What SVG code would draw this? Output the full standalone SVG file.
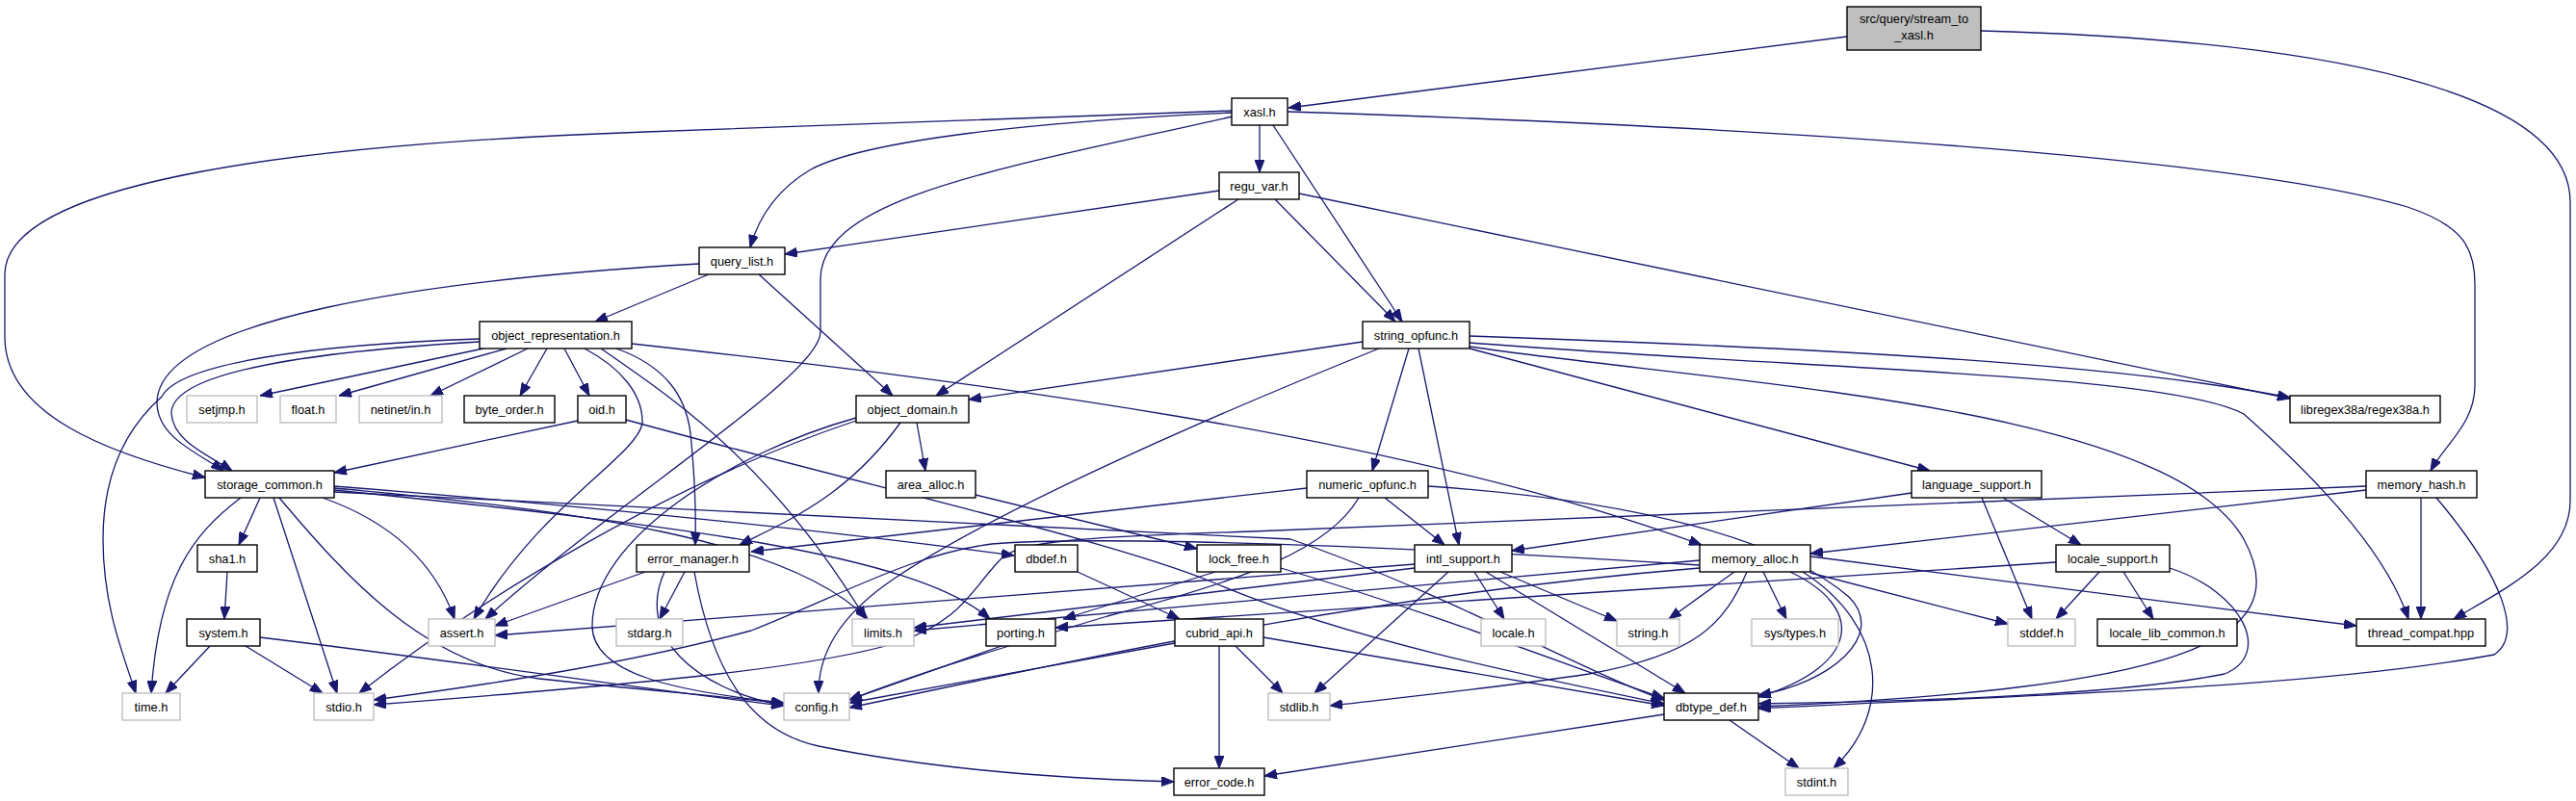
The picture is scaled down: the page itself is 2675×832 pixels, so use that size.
<svg xmlns="http://www.w3.org/2000/svg" width="2675" height="832" viewBox="0 0 2675 832">
<style>
.n rect{fill:#fff;stroke:#000;stroke-width:1.4}
.g rect{fill:#fff;stroke:#bfbfbf;stroke-width:1.4}
.m rect{fill:#bfbfbf;stroke:#000;stroke-width:1.4}
text{font-family:"Liberation Sans",Arial,Helvetica,sans-serif;font-size:12.8px;text-anchor:middle;fill:#000}
#edges path{fill:none;stroke:#191970;stroke-width:1.3;marker-end:url(#a)}
</style>
<defs>
<marker id="a" viewBox="0 0 13 10" refX="13" refY="5" markerWidth="13" markerHeight="10" markerUnits="userSpaceOnUse" orient="auto"><path d="M0,0 L13,5 L0,10 z" fill="#191970" stroke="#191970"/></marker>
</defs>
<rect width="2675" height="832" fill="#fff"/>
<g id="edges">
<path d="M1918,38 L1338,112"/>
<path d="M2057,32 C2420,42 2669,95 2669,210 L2669,520 C2669,580 2600,612 2548,643"/>
<path d="M1308,130 L1308,179"/>
<path d="M1279,117 C1080,126 900,145 842,176 C808,196 788,225 779,257"/>
<path d="M1279,115 L670,137 C300,150 5,190 5,285 L5,350 C5,430 110,470 213,496"/>
<path d="M1280,121 C1040,175 852,205 852,290 L852,345 C852,390 640,520 504,643"/>
<path d="M1322,130 L1456,334"/>
<path d="M1337,116 C1900,134 2340,168 2500,215 C2560,235 2570,260 2570,295 L2570,400 C2570,440 2540,460 2524,489"/>
<path d="M1266,198 L815,264"/>
<path d="M1286,207 L972,411"/>
<path d="M1324,207 L1449,334"/>
<path d="M1349,201 L2378,414"/>
<path d="M736,285 L618,334"/>
<path d="M788,285 L927,411"/>
<path d="M726,274 C450,290 160,330 163,420 C165,455 205,470 232,489"/>
<path d="M498,355 C330,365 176,385 178,430 C180,458 215,472 241,489"/>
<path d="M498,352 C320,358 185,378 168,412 C125,450 107,500 107,560 C107,630 128,680 141,720"/>
<path d="M502,362 L270,411"/>
<path d="M526,362 L352,411"/>
<path d="M548,362 L447,411"/>
<path d="M568,362 L540,411"/>
<path d="M586,362 L612,411"/>
<path d="M640,362 C690,380 712,410 717,450 C722,500 723,530 722,566"/>
<path d="M624,362 C700,415 800,480 899,643"/>
<path d="M607,362 C645,382 668,410 667,440 C660,475 560,525 492,643"/>
<path d="M656,357 C1000,395 1450,450 1767,566"/>
<path d="M600,437 L347,491"/>
<path d="M650,436 C900,505 1150,560 1260,605 C1400,665 1600,705 1728,731"/>
<path d="M952,439 L961,489"/>
<path d="M935,439 C880,515 820,540 768,566"/>
<path d="M889,437 C700,500 500,620 373,720"/>
<path d="M889,434 C760,470 615,560 615,650 C615,700 700,718 814,730"/>
<path d="M1415,355 L1006,415"/>
<path d="M1432,362 C1300,415 1050,520 930,600 C870,640 850,680 850,720"/>
<path d="M1463,362 L1425,489"/>
<path d="M1473,362 L1515,566"/>
<path d="M1526,362 L2004,489"/>
<path d="M1526,349 C1900,362 2200,378 2378,413"/>
<path d="M1526,356 C1900,385 2250,388 2330,430 C2420,510 2480,580 2501,643"/>
<path d="M1526,360 C1800,400 2250,420 2330,560 C2390,670 2250,715 1826,734"/>
<path d="M270,517 L248,566"/>
<path d="M250,517 C200,555 165,600 157,720"/>
<path d="M284,517 L350,720"/>
<path d="M290,517 C360,600 440,690 560,705 C680,718 760,724 814,731"/>
<path d="M335,517 C400,540 450,580 472,643"/>
<path d="M347,505 C600,525 850,550 1053,577"/>
<path d="M347,507 C600,530 820,560 901,643"/>
<path d="M347,509 C700,545 950,575 1028,643"/>
<path d="M347,511 L1340,560 C1500,615 1650,700 1728,727"/>
<path d="M1013,514 L1243,570"/>
<path d="M1357,507 L780,573"/>
<path d="M1438,517 L1500,566"/>
<path d="M1411,517 C1380,570 1300,600 1150,640 C1050,670 950,700 882,727"/>
<path d="M1483,505 C1700,520 1850,560 1920,620 C1960,660 1900,710 1826,722"/>
<path d="M1985,512 L1570,572"/>
<path d="M2058,517 L2110,643"/>
<path d="M2080,517 L2161,566"/>
<path d="M2457,509 L1880,575"/>
<path d="M2457,505 L1300,552 C1120,558 1060,562 1040,580 C1010,610 1000,645 930,668 C850,692 700,708 388,732"/>
<path d="M2514,517 L2514,643"/>
<path d="M2530,517 C2600,600 2620,660 2590,680 C2400,715 2100,722 1826,736"/>
<path d="M236,594 L233,643"/>
<path d="M711,594 L685,643"/>
<path d="M670,594 L514,650"/>
<path d="M690,594 C660,660 720,715 814,733"/>
<path d="M721,594 C740,700 780,760 850,775 C1000,805 1150,810 1219,812"/>
<path d="M1119,594 L1225,643"/>
<path d="M1262,594 L1104,643"/>
<path d="M1330,590 C1500,640 1650,700 1728,725"/>
<path d="M1469,586 L514,660"/>
<path d="M1469,590 L949,652"/>
<path d="M1504,594 L1365,720"/>
<path d="M1531,594 L1562,643"/>
<path d="M1558,594 L1679,645"/>
<path d="M1543,594 L1750,720"/>
<path d="M1801,594 L1733,643"/>
<path d="M1831,594 L1855,643"/>
<path d="M1859,594 C1935,630 1935,690 1826,724"/>
<path d="M1872,594 C1960,650 1965,740 1904,798"/>
<path d="M1814,594 C1790,650 1760,680 1650,700 C1550,715 1450,725 1381,733"/>
<path d="M1880,595 L2085,648"/>
<path d="M1880,578 L2447,650"/>
<path d="M1765,582 L949,655"/>
<path d="M1765,587 C1500,570 1150,555 1030,565 C950,575 880,615 780,655 C650,690 500,712 388,727"/>
<path d="M1765,590 C1400,620 1100,690 882,735"/>
<path d="M2180,594 L2135,643"/>
<path d="M2205,594 L2236,643"/>
<path d="M2253,590 C2330,615 2360,680 2310,700 C2200,722 2000,728 1826,731"/>
<path d="M2135,584 L1096,652"/>
<path d="M218,671 L172,720"/>
<path d="M255,671 L335,720"/>
<path d="M270,662 C500,690 700,720 814,733"/>
<path d="M1040,671 L882,727"/>
<path d="M1220,668 L882,730"/>
<path d="M1283,671 L1332,720"/>
<path d="M1266,671 L1266,798"/>
<path d="M1312,662 L1728,733"/>
<path d="M1728,742 L1313,806"/>
<path d="M1796,748 L1868,798"/>
</g>
<g id="n_stream_to_xasl" class="m"><rect x="1918" y="7" width="139" height="45"/><text x="1987.5" y="24">src/query/stream_to</text><text x="1987.5" y="41">_xasl.h</text></g>
<g id="n_xasl" class="n"><rect x="1279" y="102" width="58" height="28"/><text x="1308" y="120.5">xasl.h</text></g>
<g id="n_regu_var" class="n"><rect x="1266" y="179" width="83" height="28"/><text x="1307.5" y="197.5">regu_var.h</text></g>
<g id="n_query_list" class="n"><rect x="726" y="257" width="89" height="28"/><text x="770.5" y="275.5">query_list.h</text></g>
<g id="n_object_representation" class="n"><rect x="498" y="334" width="158" height="28"/><text x="577" y="352.5">object_representation.h</text></g>
<g id="n_string_opfunc" class="n"><rect x="1415" y="334" width="111" height="28"/><text x="1470.5" y="352.5">string_opfunc.h</text></g>
<g id="n_setjmp" class="g"><rect x="194" y="411" width="73" height="28"/><text x="230.5" y="429.5">setjmp.h</text></g>
<g id="n_float" class="g"><rect x="291" y="411" width="58" height="28"/><text x="320" y="429.5">float.h</text></g>
<g id="n_netinet" class="g"><rect x="373" y="411" width="86" height="28"/><text x="416" y="429.5">netinet/in.h</text></g>
<g id="n_byte_order" class="n"><rect x="482" y="411" width="94" height="28"/><text x="529" y="429.5">byte_order.h</text></g>
<g id="n_oid" class="n"><rect x="600" y="411" width="50" height="28"/><text x="625" y="429.5">oid.h</text></g>
<g id="n_object_domain" class="n"><rect x="889" y="411" width="117" height="28"/><text x="947.5" y="429.5">object_domain.h</text></g>
<g id="n_libregex" class="n"><rect x="2378" y="411" width="156" height="28"/><text x="2456" y="429.5">libregex38a/regex38a.h</text></g>
<g id="n_storage_common" class="n"><rect x="213" y="489" width="134" height="28"/><text x="280" y="507.5">storage_common.h</text></g>
<g id="n_area_alloc" class="n"><rect x="920" y="489" width="93" height="28"/><text x="966.5" y="507.5">area_alloc.h</text></g>
<g id="n_numeric_opfunc" class="n"><rect x="1357" y="489" width="126" height="28"/><text x="1420" y="507.5">numeric_opfunc.h</text></g>
<g id="n_language_support" class="n"><rect x="1985" y="489" width="135" height="28"/><text x="2052.5" y="507.5">language_support.h</text></g>
<g id="n_memory_hash" class="n"><rect x="2457" y="489" width="115" height="28"/><text x="2514.5" y="507.5">memory_hash.h</text></g>
<g id="n_sha1" class="n"><rect x="205" y="566" width="62" height="28"/><text x="236" y="584.5">sha1.h</text></g>
<g id="n_error_manager" class="n"><rect x="661" y="566" width="117" height="28"/><text x="719.5" y="584.5">error_manager.h</text></g>
<g id="n_dbdef" class="n"><rect x="1054" y="566" width="65" height="28"/><text x="1086.5" y="584.5">dbdef.h</text></g>
<g id="n_lock_free" class="n"><rect x="1243" y="566" width="87" height="28"/><text x="1286.5" y="584.5">lock_free.h</text></g>
<g id="n_intl_support" class="n"><rect x="1469" y="566" width="101" height="28"/><text x="1519.5" y="584.5">intl_support.h</text></g>
<g id="n_memory_alloc" class="n"><rect x="1765" y="566" width="115" height="28"/><text x="1822.5" y="584.5">memory_alloc.h</text></g>
<g id="n_locale_support" class="n"><rect x="2135" y="566" width="118" height="28"/><text x="2194" y="584.5">locale_support.h</text></g>
<g id="n_system" class="n"><rect x="194" y="643" width="76" height="28"/><text x="232" y="661.5">system.h</text></g>
<g id="n_assert" class="g"><rect x="445" y="643" width="69" height="28"/><text x="479.5" y="661.5">assert.h</text></g>
<g id="n_stdarg" class="g"><rect x="640" y="643" width="69" height="28"/><text x="674.5" y="661.5">stdarg.h</text></g>
<g id="n_limits" class="g"><rect x="885" y="643" width="64" height="28"/><text x="917" y="661.5">limits.h</text></g>
<g id="n_porting" class="n"><rect x="1024" y="643" width="72" height="28"/><text x="1060" y="661.5">porting.h</text></g>
<g id="n_cubrid_api" class="n"><rect x="1220" y="643" width="92" height="28"/><text x="1266" y="661.5">cubrid_api.h</text></g>
<g id="n_locale" class="g"><rect x="1538" y="643" width="67" height="28"/><text x="1571.5" y="661.5">locale.h</text></g>
<g id="n_string" class="g"><rect x="1679" y="643" width="65" height="28"/><text x="1711.5" y="661.5">string.h</text></g>
<g id="n_sys_types" class="g"><rect x="1819" y="643" width="90" height="28"/><text x="1864" y="661.5">sys/types.h</text></g>
<g id="n_stddef" class="g"><rect x="2085" y="643" width="70" height="28"/><text x="2120" y="661.5">stddef.h</text></g>
<g id="n_locale_lib_common" class="n"><rect x="2178" y="643" width="145" height="28"/><text x="2250.5" y="661.5">locale_lib_common.h</text></g>
<g id="n_thread_compat" class="n"><rect x="2447" y="643" width="134" height="28"/><text x="2514" y="661.5">thread_compat.hpp</text></g>
<g id="n_time" class="g"><rect x="127" y="720" width="60" height="28"/><text x="157" y="738.5">time.h</text></g>
<g id="n_stdio" class="g"><rect x="326" y="720" width="62" height="28"/><text x="357" y="738.5">stdio.h</text></g>
<g id="n_config" class="g"><rect x="814" y="720" width="68" height="28"/><text x="848" y="738.5">config.h</text></g>
<g id="n_stdlib" class="g"><rect x="1317" y="720" width="64" height="28"/><text x="1349" y="738.5">stdlib.h</text></g>
<g id="n_dbtype_def" class="n"><rect x="1728" y="720" width="98" height="28"/><text x="1777" y="738.5">dbtype_def.h</text></g>
<g id="n_error_code" class="n"><rect x="1219" y="798" width="94" height="28"/><text x="1266" y="816.5">error_code.h</text></g>
<g id="n_stdint" class="g"><rect x="1854" y="798" width="65" height="28"/><text x="1886.5" y="816.5">stdint.h</text></g>
</svg>
